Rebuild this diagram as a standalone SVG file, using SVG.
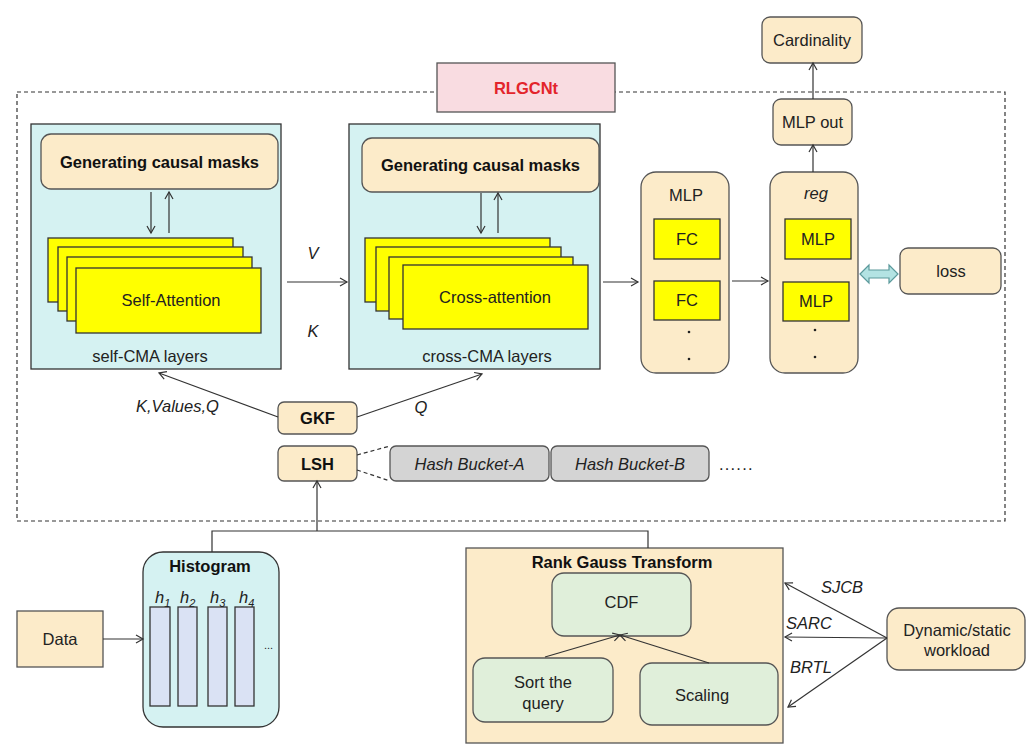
<svg xmlns="http://www.w3.org/2000/svg" width="1028" height="753" viewBox="0 0 1028 753">
<defs>
<marker id="ah" markerWidth="10" markerHeight="10" refX="8" refY="5" orient="auto" markerUnits="userSpaceOnUse">
<path d="M1,1 L8,5 L1,9" fill="none" stroke="#333" stroke-width="1.2"/>
</marker>
</defs>
<style>
text{font-family:"Liberation Sans",Arial,sans-serif;font-size:16.5px;fill:#222}
.b{font-weight:bold;fill:#111}
.i{font-style:italic}
.c{text-anchor:middle}
.peach{fill:#fcebc9;stroke:#555;stroke-width:1.3}
.cyan{fill:#d5f2f2;stroke:#333;stroke-width:1.3}
.yel{fill:#ffff00;stroke:#333;stroke-width:1.3}
.grn{fill:#e0efda;stroke:#555;stroke-width:1.3}
.gray{fill:#d4d4d4;stroke:#555;stroke-width:1.3}
.bar{fill:#dae2f4;stroke:#333;stroke-width:1.3}
.ln{fill:none;stroke:#333;stroke-width:1.2}
.arr{fill:none;stroke:#333;stroke-width:1.2;marker-end:url(#ah)}
.dash{fill:none;stroke:#333;stroke-width:1.2;stroke-dasharray:4 3}
</style>
<rect width="1028" height="753" fill="#fff"/>
<g id="frame">
<rect x="17" y="92" width="988" height="429" class="dash"/>
</g>
<g id="rlgcnt">
<rect x="437" y="63" width="178" height="49" fill="#f9dce1" stroke="#555" stroke-width="1.3"/>
<text x="526" y="94" class="c b" style="fill:#e3242b">RLGCNt</text>
</g>
<g id="self-cma">
<rect x="31" y="124" width="250" height="245" class="cyan"/>
<rect x="41" y="134" width="237" height="55" rx="10" class="peach"/>
<text x="159.5" y="167.5" class="c b">Generating causal masks</text>
<rect x="48" y="238" width="185" height="64" class="yel"/>
<rect x="58" y="247" width="185" height="64" class="yel"/>
<rect x="67" y="257" width="185" height="64" class="yel"/>
<rect x="76" y="268" width="185" height="65" class="yel"/>
<text x="171" y="306" class="c">Self-Attention</text>
<text x="150" y="362" class="c">self-CMA layers</text>
</g>
<g id="cross-cma">
<rect x="349" y="124" width="251" height="245" class="cyan"/>
<rect x="362" y="138" width="237" height="54" rx="10" class="peach"/>
<text x="480.5" y="171" class="c b">Generating causal masks</text>
<rect x="365" y="238" width="185" height="64" class="yel"/>
<rect x="376" y="247" width="185" height="64" class="yel"/>
<rect x="389" y="257" width="184" height="62" class="yel"/>
<rect x="403" y="265" width="185" height="64" class="yel"/>
<text x="495" y="303" class="c">Cross-attention</text>
<text x="487" y="362" class="c">cross-CMA layers</text>
</g>
<g id="mlp">
<rect x="641" y="172" width="88" height="201" rx="15" class="peach"/>
<text x="686" y="201" class="c">MLP</text>
<rect x="654" y="219" width="66" height="40" class="yel"/>
<text x="687" y="245" class="c">FC</text>
<rect x="654" y="281" width="66" height="39" class="yel"/>
<text x="687" y="306" class="c">FC</text>
<circle cx="689" cy="332" r="1.3" fill="#222"/>
<circle cx="689" cy="359" r="1.3" fill="#222"/>
</g>
<g id="reg">
<rect x="770" y="172" width="88" height="201" rx="15" class="peach"/>
<text x="816" y="199" class="c i">reg</text>
<rect x="785" y="219" width="66" height="40" class="yel"/>
<text x="818" y="245" class="c">MLP</text>
<rect x="783" y="282" width="66" height="39" class="yel"/>
<text x="816" y="307" class="c">MLP</text>
<circle cx="815" cy="330" r="1.3" fill="#222"/>
<circle cx="815" cy="357" r="1.3" fill="#222"/>
</g>
<g id="mlp-out">
<rect x="773" y="99" width="79" height="46" rx="8" class="peach"/>
<text x="812.5" y="128" class="c">MLP out</text>
</g>
<g id="cardinality">
<rect x="762" y="17" width="100" height="46" rx="8" class="peach"/>
<text x="812" y="46" class="c">Cardinality</text>
</g>
<g id="loss">
<rect x="900" y="248" width="101" height="46" rx="8" class="peach"/>
<text x="951" y="277" class="c">loss</text>
</g>
<g id="gkf">
<rect x="278" y="402" width="79" height="32" rx="6" class="peach"/>
<text x="317.5" y="424" class="c b">GKF</text>
</g>
<g id="lsh">
<rect x="278" y="446" width="79" height="35" rx="6" class="peach"/>
<text x="317.5" y="469.5" class="c b">LSH</text>
</g>
<g id="bucket-a">
<rect x="390" y="446" width="159" height="35" rx="6" class="gray"/>
<text x="469.5" y="469.5" class="c i">Hash Bucket-A</text>
</g>
<g id="bucket-b">
<rect x="551" y="446" width="158" height="35" rx="6" class="gray"/>
<text x="630" y="469.5" class="c i">Hash Bucket-B</text>
</g>
<text x="719" y="470" style="letter-spacing:1.2px">......</text>
<g id="data">
<rect x="17" y="611" width="86" height="56" class="peach"/>
<text x="60" y="645" class="c">Data</text>
</g>
<g id="histogram">
<rect x="143" y="552" width="136" height="175" rx="20" class="cyan"/>
<text x="210" y="572" class="c b">Histogram</text>
<rect x="150" y="607" width="20" height="99" class="bar"/>
<rect x="178" y="607" width="19" height="99" class="bar"/>
<rect x="208" y="607" width="19" height="99" class="bar"/>
<rect x="235" y="607" width="19" height="99" class="bar"/>
<text x="155" y="603" class="i">h<tspan dy="4" font-size="11">1</tspan></text>
<text x="180" y="603" class="i">h<tspan dy="4" font-size="11">2</tspan></text>
<text x="210" y="603" class="i">h<tspan dy="4" font-size="11">3</tspan></text>
<text x="239" y="603" class="i">h<tspan dy="4" font-size="11">4</tspan></text>
<text x="264" y="649" style="font-size:11px">...</text>
</g>
<g id="rank-gauss">
<rect x="466" y="548" width="317" height="195" class="peach"/>
<text x="622" y="568" class="c b">Rank Gauss Transform</text>
</g>
<g id="cdf">
<rect x="552" y="573" width="139" height="63" rx="12" class="grn"/>
<text x="621.5" y="608" class="c">CDF</text>
</g>
<g id="sort">
<rect x="473" y="658" width="140" height="64" rx="12" class="grn"/>
<text x="543" y="688" class="c">Sort the</text>
<text x="543" y="709" class="c">query</text>
</g>
<g id="scaling">
<rect x="640" y="663" width="138" height="62" rx="12" class="grn"/>
<text x="702" y="701" class="c">Scaling</text>
</g>
<g id="workload">
<rect x="887" y="608" width="138" height="62" rx="12" class="peach"/>
<text x="957" y="636" class="c">Dynamic/static</text>
<text x="957" y="656" class="c">workload</text>
</g>
<g id="connectors">
<line x1="151" y1="192" x2="151" y2="233" class="arr"/>
<line x1="169" y1="233" x2="169" y2="192" class="arr"/>
<line x1="481" y1="193" x2="481" y2="233" class="arr"/>
<line x1="498" y1="233" x2="498" y2="193" class="arr"/>
<line x1="287" y1="282" x2="347" y2="282" class="arr"/>
<text x="313" y="259" class="c i">V</text>
<text x="313" y="337" class="c i">K</text>
<line x1="603" y1="282" x2="638" y2="282" class="arr"/>
<line x1="732" y1="281" x2="768" y2="281" class="arr"/>
<line x1="813" y1="172" x2="813" y2="145" class="arr"/>
<line x1="813" y1="99" x2="813" y2="63" class="arr"/>
<polygon points="860,274 869,265 869,270 889,270 889,265 898,274 889,283 889,278 869,278 869,283" fill="#b3e3e3" stroke="#5c9a9c" stroke-width="1.2"/>
<line x1="278" y1="417" x2="159" y2="373" class="arr"/>
<text x="136" y="412" class="i">K,Values,Q</text>
<line x1="357" y1="417" x2="482" y2="374" class="arr"/>
<text x="421" y="413" class="c i">Q</text>
<line x1="357" y1="455" x2="390" y2="446" class="dash"/>
<line x1="357" y1="470" x2="390" y2="481" class="dash"/>
<polyline points="212,552 212,531 648,531 648,548" class="ln"/>
<line x1="317" y1="531" x2="317" y2="481" class="arr"/>
<line x1="103" y1="639" x2="143" y2="639" class="arr"/>
<line x1="545" y1="657" x2="620" y2="635" class="arr"/>
<line x1="709" y1="663" x2="620" y2="635" class="arr"/>
<line x1="887" y1="638" x2="785" y2="583" class="arr"/>
<line x1="887" y1="638" x2="785" y2="637" class="arr"/>
<line x1="887" y1="638" x2="788" y2="707" class="arr"/>
<text x="842" y="593" class="c i">SJCB</text>
<text x="786" y="629" class="i">SARC</text>
<text x="790" y="673" class="i">BRTL</text>
</g>
</svg>
